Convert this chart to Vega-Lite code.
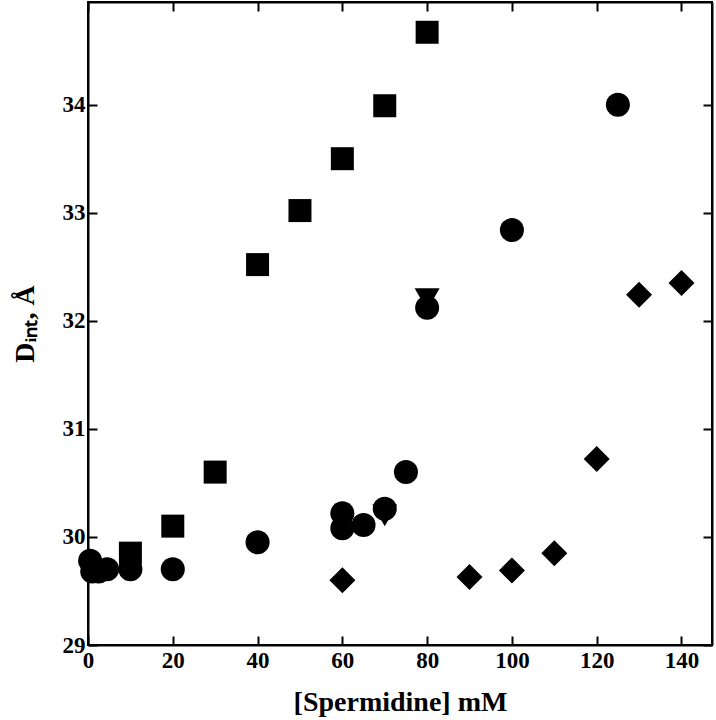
{
  "$schema": "https://vega.github.io/schema/vega-lite/v6.json",
  "width": 624,
  "height": 643,
  "autosize": {"type": "none"},
  "padding": {"left": 88, "top": 2, "right": 4, "bottom": 75},
  "background": "white",
  "config": {
    "font": "Liberation Serif",
    "view": {"stroke": "black", "strokeWidth": 2},
    "axis": {
      "grid": false,
      "domainColor": "black",
      "domainWidth": 2,
      "tickColor": "black",
      "tickWidth": 2,
      "tickSize": -9,
      "labelColor": "black",
      "labelFont": "Liberation Serif",
      "labelFontWeight": "bold",
      "labelFontSize": 23,
      "labelFlush": false,
      "labelOverlap": false,
      "titleColor": "black",
      "titleFont": "Liberation Serif",
      "titleFontWeight": "bold",
      "titleFontSize": 28
    }
  },
  "data": {
    "values": [
      {"x": 70, "y": 30.2, "s": "triangle"},
      {"x": 80, "y": 32.2, "s": "triangle"},
      {"x": 60, "y": 29.6, "s": "diamond"},
      {"x": 90, "y": 29.63, "s": "diamond"},
      {"x": 100, "y": 29.69, "s": "diamond"},
      {"x": 110, "y": 29.85, "s": "diamond"},
      {"x": 120, "y": 30.72, "s": "diamond"},
      {"x": 130, "y": 32.24, "s": "diamond"},
      {"x": 140, "y": 32.35, "s": "diamond"},
      {"x": 10, "y": 29.85, "s": "square"},
      {"x": 20, "y": 30.1, "s": "square"},
      {"x": 30, "y": 30.6, "s": "square"},
      {"x": 40, "y": 32.52, "s": "square"},
      {"x": 50, "y": 33.02, "s": "square"},
      {"x": 60, "y": 33.5, "s": "square"},
      {"x": 70, "y": 33.99, "s": "square"},
      {"x": 80, "y": 34.67, "s": "square"},
      {"x": 0.5, "y": 29.78, "s": "circle"},
      {"x": 1, "y": 29.68, "s": "circle"},
      {"x": 2.5, "y": 29.68, "s": "circle"},
      {"x": 4.5, "y": 29.7, "s": "circle"},
      {"x": 10, "y": 29.7, "s": "circle"},
      {"x": 20, "y": 29.7, "s": "circle"},
      {"x": 40, "y": 29.95, "s": "circle"},
      {"x": 60, "y": 30.22, "s": "circle"},
      {"x": 60, "y": 30.08, "s": "circle"},
      {"x": 65, "y": 30.11, "s": "circle"},
      {"x": 70, "y": 30.26, "s": "circle"},
      {"x": 75, "y": 30.6, "s": "circle"},
      {"x": 80, "y": 32.12, "s": "circle"},
      {"x": 100, "y": 32.84, "s": "circle"},
      {"x": 125, "y": 34.0, "s": "circle"}
    ]
  },
  "layer": [
    {
      "transform": [{"filter": "datum.s !== 'circle'"}],
      "mark": {"type": "point", "filled": true, "color": "black", "opacity": 1, "strokeWidth": 0},
      "encoding": {
        "x": {"field": "x", "type": "quantitative",
          "scale": {"domain": [0, 147.2], "nice": false, "zero": false},
          "axis": {"orient": "bottom", "values": [0, 20, 40, 60, 80, 100, 120, 140], "labelPadding": 13, "title": "[Spermidine] mM", "titlePadding": 16}},
        "y": {"field": "y", "type": "quantitative",
          "scale": {"domain": [29, 34.95], "nice": false, "zero": false},
          "axis": {"orient": "left", "values": [29, 30, 31, 32, 33, 34], "labelPadding": 12, "title": "Dᵢₙₜ, Å", "titlePadding": 23}},
        "shape": {"field": "s", "type": "nominal", "legend": null,
          "scale": {"domain": ["square", "circle", "triangle", "diamond"], "range": ["square", "circle", "triangle-down", "diamond"]}},
        "size": {"field": "s", "type": "nominal", "legend": null,
          "scale": {"domain": ["square", "circle", "triangle", "diamond"], "range": [529, 676, 760, 930]}}
      }
    },
    {
      "transform": [{"filter": "datum.s === 'circle'"}],
      "mark": {"type": "point", "filled": true, "color": "black", "opacity": 1, "strokeWidth": 0},
      "encoding": {
        "x": {"field": "x", "type": "quantitative",
          "scale": {"domain": [0, 147.2], "nice": false, "zero": false},
          "axis": {"orient": "top", "values": [0, 20, 40, 60, 80, 100, 120, 140], "labels": false, "title": null}},
        "y": {"field": "y", "type": "quantitative",
          "scale": {"domain": [29, 34.95], "nice": false, "zero": false},
          "axis": {"orient": "right", "values": [29, 30, 31, 32, 33, 34], "labels": false, "title": null}},
        "shape": {"field": "s", "type": "nominal", "legend": null,
          "scale": {"domain": ["square", "circle", "triangle", "diamond"], "range": ["square", "circle", "triangle-down", "diamond"]}},
        "size": {"field": "s", "type": "nominal", "legend": null,
          "scale": {"domain": ["square", "circle", "triangle", "diamond"], "range": [529, 676, 760, 930]}}
      }
    }
  ],
  "resolve": {"axis": {"x": "independent", "y": "independent"}}
}
